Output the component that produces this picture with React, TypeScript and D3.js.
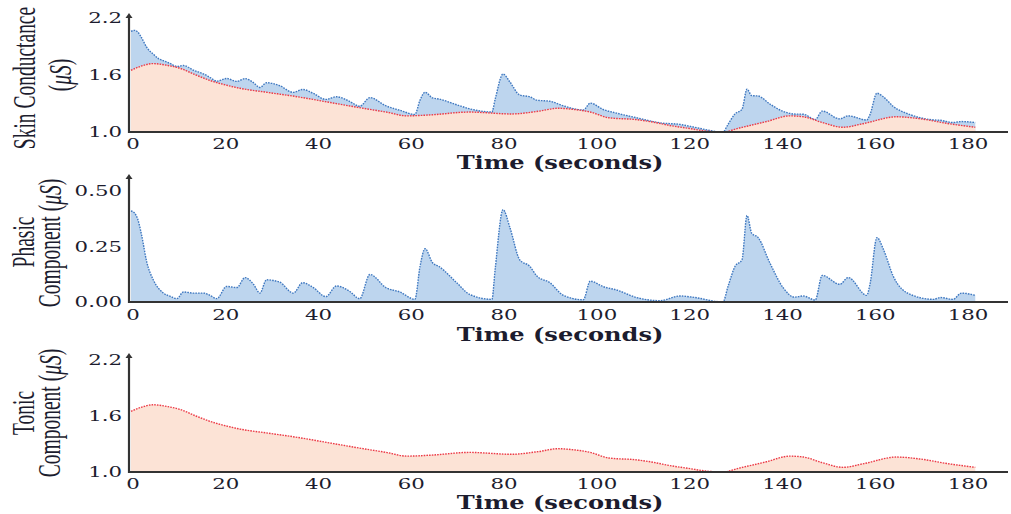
import React from "react";
import * as d3 from "d3";

// ---- Data ----
const tonicTime = [0, 2, 4.7, 8, 10.6, 14, 17.8, 20, 23.5, 29, 36, 43, 50, 55, 59.5, 64.5, 73, 82, 88, 92, 95, 99, 103, 109, 113, 116, 120, 124, 127.6, 131, 137, 142, 145, 149, 153.5, 158, 165, 170, 176, 182];
const tonicValues = [1.65, 1.69, 1.72, 1.70, 1.67, 1.60, 1.53, 1.50, 1.46, 1.42, 1.37, 1.31, 1.25, 1.21, 1.17, 1.18, 1.21, 1.19, 1.22, 1.25, 1.24, 1.21, 1.15, 1.13, 1.10, 1.07, 1.04, 1.01, 1.00, 1.04, 1.11, 1.17, 1.16, 1.10, 1.05, 1.09, 1.16, 1.14, 1.09, 1.05];

const phasicTime = [0, 0.8, 1.5, 2.3, 3.4, 4.8, 6, 7, 8.5, 9.9, 11.3, 13.5, 15.7, 17, 18.5, 20.6, 22.8, 24.6, 26.4, 27.8, 29.2, 32, 35, 37, 39.3, 42, 44.3, 47, 49.3, 51.5, 55, 58, 61.2, 62.3, 63.4, 65, 66.4, 70.2, 73, 77.8, 78.5, 80.2, 81.7, 83.8, 86, 87.5, 90.3, 93.2, 97.5, 99, 101.8, 104.7, 109, 114, 118.3, 121, 127.6, 128.7, 130.2, 131.7, 132.8, 133.8, 135.2, 137.7, 140.6, 143, 144.9, 147.5, 149, 152.8, 154.6, 158.6, 159.3, 160.8, 162.2, 164.3, 168, 173, 174.5, 177.2, 179, 182];
const phasicValues = [0.41, 0.40, 0.37, 0.30, 0.18, 0.10, 0.06, 0.04, 0.025, 0.015, 0.045, 0.04, 0.04, 0.03, 0.015, 0.07, 0.065, 0.11, 0.08, 0.04, 0.10, 0.09, 0.04, 0.087, 0.065, 0.024, 0.072, 0.05, 0.015, 0.124, 0.064, 0.045, 0.012, 0.16, 0.24, 0.177, 0.16, 0.087, 0.034, 0.012, 0.147, 0.416, 0.334, 0.19, 0.16, 0.117, 0.087, 0.03, 0.01, 0.094, 0.069, 0.054, 0.02, 0.006, 0.027, 0.022, 0.0, 0.07, 0.16, 0.19, 0.39, 0.31, 0.29, 0.177, 0.064, 0.022, 0.027, 0.009, 0.12, 0.08, 0.11, 0.03, 0.08, 0.29, 0.237, 0.117, 0.034, 0.012, 0.02, 0.012, 0.04, 0.03];
const scValues = [2.06, 2.07, 2.05, 1.99, 1.89, 1.82, 1.77, 1.75, 1.72, 1.69, 1.70, 1.65, 1.61, 1.575, 1.535, 1.563, 1.533, 1.562, 1.519, 1.469, 1.519, 1.489, 1.417, 1.448, 1.407, 1.343, 1.371, 1.326, 1.271, 1.362, 1.274, 1.228, 1.185, 1.335, 1.418, 1.359, 1.347, 1.287, 1.244, 1.211, 1.345, 1.61, 1.525, 1.389, 1.37, 1.335, 1.324, 1.276, 1.231, 1.304, 1.237, 1.198, 1.15, 1.096, 1.08, 1.055, 1.00, 1.08, 1.191, 1.238, 1.451, 1.383, 1.379, 1.295, 1.217, 1.189, 1.187, 1.132, 1.22, 1.138, 1.17, 1.126, 1.183, 1.408, 1.369, 1.27, 1.182, 1.127, 1.123, 1.10, 1.11, 1.10];

const xTicks = [0, 20, 40, 60, 80, 100, 120, 140, 160, 180];
const scTicks = [1.0, 1.6, 2.2];
const phasicTicks = [0.0, 0.25, 0.5];
const tonicTicks = [1.0, 1.6, 2.2];

// ---- Styles ----
const BLUE_FILL = "#bdd5ee";
const BLUE_LINE = "#3f78c0";
const ORANGE_FILL = "#fce3d6";
const RED_LINE = "#ec3b47";
const AXIS = "#333";
const TEXT = "#1c1c2e";
const SX_TICK = 1.42;
const SX_XLABEL = 1.34;
const SX_TITLE = 1.6;

const x = d3.scaleLinear().domain([0, 180]).range([131, 966]);
const X_END = 1008;

type Pt = [number, number];
const zip = (t: number[], v: number[]): Pt[] => t.map((d, i) => [d, v[i]]);

function Panel(props: {
  y: d3.ScaleLinear<number, number>;
  ticks: number[];
  fmt: (d: number) => string;
  titleLines: { text: React.ReactNode; x: number; y: number }[];
  tickY: number;
  labelY: number;
  layers: { data: Pt[]; fill: string; stroke: string }[];
  axisTop: number;
}) {
  const { y, ticks, fmt, titleLines, tickY, labelY, layers, axisTop } = props;
  const y0 = y.range()[0];
  const base = y.domain()[0];
  return (
    <g>
      {layers.map((L, i) => {
        const area = d3
          .area<Pt>()
          .x((d) => x(d[0]))
          .y0(y(base))
          .y1((d) => y(d[1]))
          .curve(d3.curveMonotoneX);
        const line = d3
          .line<Pt>()
          .x((d) => x(d[0]))
          .y((d) => y(d[1]))
          .curve(d3.curveMonotoneX);
        return (
          <g key={i}>
            <path d={area(L.data) || ""} fill={L.fill} />
            <path d={line(L.data) || ""} fill="none" stroke={L.stroke} strokeWidth={1.4} strokeDasharray="1.6,1.1" />
          </g>
        );
      })}
      {/* axes */}
      <line x1={129} x2={X_END} y1={y0} y2={y0} stroke={AXIS} strokeWidth={2.2} />
      <line x1={129} x2={129} y1={y0 + 1} y2={axisTop + 3} stroke={AXIS} strokeWidth={2.2} />
      <path d={`M${125.5},${axisTop + 5} L129,${axisTop} L${132.5},${axisTop + 5} Z`} fill={AXIS} />
      {ticks.map((t) => (
        <text
          key={t}
          transform={`translate(122,${y(t)}) scale(${SX_TICK},1)`}
          textAnchor="end"
          dominantBaseline="central"
          fontFamily="DejaVu Serif"
          fontSize={15}
          fill={TEXT}
        >
          {fmt(t)}
        </text>
      ))}
      {xTicks.map((t) => (
        <text
          key={t}
          transform={`translate(${x(t) + 2},${tickY}) scale(${SX_TICK},1)`}
          textAnchor="middle"
          dominantBaseline="central"
          fontFamily="DejaVu Serif"
          fontSize={15}
          fill={TEXT}
        >
          {t}
        </text>
      ))}
      <text
        transform={`translate(560,${labelY}) scale(${SX_XLABEL},1)`}
        textAnchor="middle"
        dominantBaseline="central"
        fontFamily="DejaVu Serif"
        fontWeight="bold"
        fontSize={18}
        fill={TEXT}
      >
        Time (seconds)
      </text>
      {titleLines.map((l, i) => (
        <text
          key={i}
          transform={`translate(${l.x},${l.y}) scale(${SX_TITLE},1) rotate(-90)`}
          textAnchor="middle"
          dominantBaseline="central"
          fontFamily="Liberation Serif"
          fontSize={19.5}
          fill={TEXT}
        >
          {l.text}
        </text>
      ))}
    </g>
  );
}

const muS = (
  <>
    (<tspan fontStyle="italic">μS</tspan>)
  </>
);

export default function App() {
  const yTop = d3.scaleLinear().domain([1.0, 2.2]).range([132, 18]);
  const yMid = d3.scaleLinear().domain([0, 0.5]).range([302, 191]);
  const yBot = d3.scaleLinear().domain([1.0, 2.2]).range([472, 360]);
  const tonic = zip(tonicTime, tonicValues);
  const phasic = zip(phasicTime, phasicValues);
  const sc = zip(phasicTime, scValues);
  return (
    <svg width={1011} height={514} style={{ position: "absolute", left: 0, top: 0, background: "#fff" }}>
      <Panel
        y={yTop}
        ticks={scTicks}
        fmt={(d) => d3.format(".1f")(d)}
        titleLines={[
          { text: "Skin Conductance", x: 25, y: 78 },
          { text: muS, x: 60, y: 75 },
        ]}
        tickY={144}
        labelY={163}
        axisTop={13}
        layers={[
          { data: sc, fill: BLUE_FILL, stroke: BLUE_LINE },
          { data: tonic, fill: ORANGE_FILL, stroke: RED_LINE },
        ]}
      />
      <Panel
        y={yMid}
        ticks={phasicTicks}
        fmt={(d) => d3.format(".2f")(d)}
        titleLines={[
          { text: "Phasic", x: 24, y: 242 },
          { text: <>Component {muS}</>, x: 50, y: 243 },
        ]}
        tickY={315}
        labelY={335}
        axisTop={174}
        layers={[{ data: phasic, fill: BLUE_FILL, stroke: BLUE_LINE }]}
      />
      <Panel
        y={yBot}
        ticks={tonicTicks}
        fmt={(d) => d3.format(".1f")(d)}
        titleLines={[
          { text: "Tonic", x: 24, y: 413 },
          { text: <>Component {muS}</>, x: 50, y: 413 },
        ]}
        tickY={484}
        labelY={503}
        axisTop={353}
        layers={[{ data: tonic, fill: ORANGE_FILL, stroke: RED_LINE }]}
      />
    </svg>
  );
}
